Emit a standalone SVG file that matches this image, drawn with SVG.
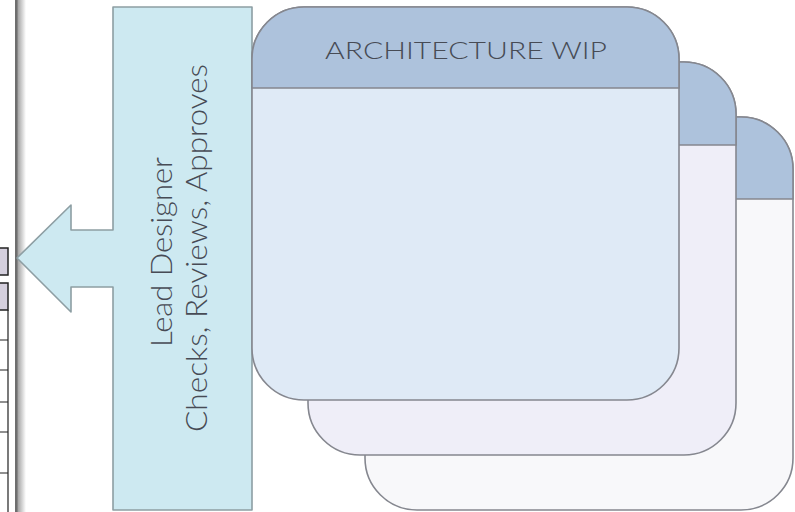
<svg xmlns="http://www.w3.org/2000/svg" width="795" height="512" viewBox="0 0 795 512">
<defs>
<linearGradient id="edge" x1="0" y1="0" x2="1" y2="0">
<stop offset="0" stop-color="#9a9a9a"/>
<stop offset="1" stop-color="#ffffff"/>
</linearGradient>
<style>
.cell{fill:#d4cfdd;stroke:#222;stroke-width:1.5}
.grid{stroke:#222;stroke-width:1.2;fill:none}
.card{stroke:#85878f;stroke-width:1.6}
.hdr{fill:#adc2dc;stroke:#85878f;stroke-width:1.6}
.lbl{font-family:Lato,"Open Sans","Liberation Sans",sans-serif;font-weight:300;fill:#474b55}
</style>
</defs>
<rect x="0" y="0" width="795" height="512" fill="#ffffff"/>
<g id="sheet-edge">
<rect class="cell" x="-2" y="248" width="10" height="27"/>
<rect class="cell" x="-2" y="283" width="10" height="27"/>
<path class="grid" d="M8,310 V512 M0,340 H8 M0,370 H8 M0,402 H8 M0,432 H8 M0,473 H8"/>
<rect x="17" y="0" width="9" height="512" fill="url(#edge)"/>
<rect x="15" y="0" width="2.5" height="512" fill="#6e6e6e"/>
</g>
<g id="lead-designer">
<path d="M17,258 L71,205 L71,230 L113,230 L113,7 L252,7 L252,510 L113,510 L113,287 L71,287 L71,312 Z" fill="#cde9f1" stroke="#8d9ea3" stroke-width="1.6" stroke-linejoin="round"/>
<text class="lbl" font-size="29" text-anchor="middle" transform="translate(172,252) rotate(-90)" textLength="190" lengthAdjust="spacingAndGlyphs">Lead Designer</text>
<text class="lbl" font-size="29" text-anchor="middle" transform="translate(207,248) rotate(-90)" textLength="368" lengthAdjust="spacingAndGlyphs">Checks, Reviews, Approves</text>
</g>
<g id="card-3">
<rect class="card" x="365" y="117" width="428" height="393" rx="52" ry="52" fill="#f8f8fa"/>
<path class="hdr" d="M365,199 V169 A52,52 0 0 1 417,117 H741 A52,52 0 0 1 793,169 V199 Z"/>
</g>
<g id="card-2">
<rect class="card" x="308" y="62" width="428" height="393" rx="52" ry="52" fill="#efeef8"/>
<path class="hdr" d="M308,145 V114 A52,52 0 0 1 360,62 H684 A52,52 0 0 1 736,114 V145 Z"/>
</g>
<g id="card-1">
<rect class="card" x="252" y="7" width="427" height="393" rx="52" ry="52" fill="#dfeaf6"/>
<path class="hdr" d="M252,88 V59 A52,52 0 0 1 304,7 H627 A52,52 0 0 1 679,59 V88 Z"/>
<text class="lbl" x="466" y="59" font-size="23" text-anchor="middle" textLength="282" lengthAdjust="spacingAndGlyphs">ARCHITECTURE WIP</text>
</g>
<g id="connectors"></g>
</svg>
